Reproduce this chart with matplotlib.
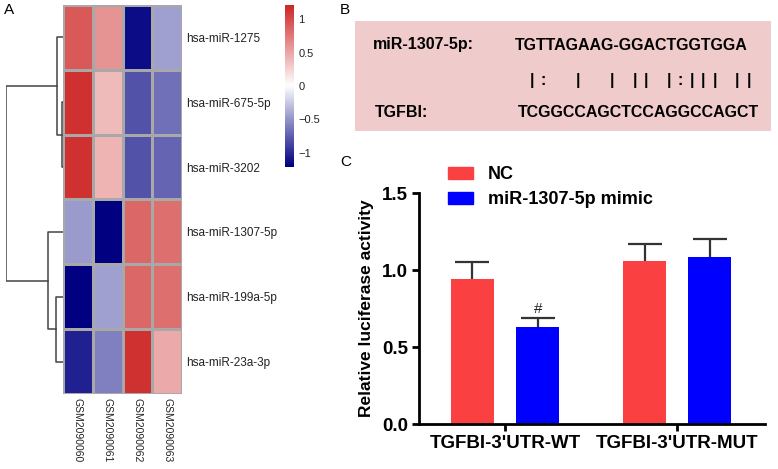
import numpy as np
import matplotlib
matplotlib.use("Agg")
import matplotlib.pyplot as plt
from matplotlib.colors import LinearSegmentedColormap
from matplotlib.patches import Patch

plt.rcParams['font.family'] = ['Liberation Sans', 'DejaVu Sans']

# ===== 資料 =====
# A: heatmap (row-scaled)
mirnas = ["hsa-miR-1275", "hsa-miR-675-5p", "hsa-miR-3202",
          "hsa-miR-1307-5p", "hsa-miR-199a-5p", "hsa-miR-23a-3p"]
samples = ["GSM2090060", "GSM2090061", "GSM2090062", "GSM2090063"]
expr = np.array([
    [0.92, 0.60, -1.15, -0.45],
    [1.15, 0.38, -0.82, -0.68],
    [1.15, 0.42, -0.82, -0.73],
    [-0.48, -1.21, 0.85, 0.80],
    [-1.21, -0.45, 0.85, 0.80],
    [-1.05, -0.60, 1.15, 0.48],
])
# dendrogram merges: (left node, right node, height); leaves 0..5, new nodes 6..
merges = [(1, 2, 0.1), (0, 6, 0.6), (4, 5, 0.7), (3, 8, 1.5), (7, 9, 5.7)]

# B: alignment
mir_seq = "TGTTAGAAG-GGACTGGTGGA"
match_seq = " |:  |  | || |:||| ||"
gene_seq = "TCGGCCAGCTCCAGGCCAGCT"

# C: luciferase
groups = ["TGFBI-3'UTR-WT", "TGFBI-3'UTR-MUT"]
nc_mean = [0.94, 1.06]
nc_err = [0.11, 0.11]
mimic_mean = [0.63, 1.085]
mimic_err = [0.06, 0.115]

# ===== 畫圖 =====
W, H = 778, 469
fig = plt.figure(figsize=(W / 100, H / 100), dpi=100)


def px_axes(x0, y0, x1, y1, **kw):
    return fig.add_axes([x0 / W, 1 - y1 / H, (x1 - x0) / W, (y1 - y0) / H], **kw)


# --- A heatmap ---
cmap = LinearSegmentedColormap.from_list("pheat", ["#000080", "#FFFFFF", "#CD2626"])
ax_h = px_axes(63, 5, 182, 394)
ax_h.pcolormesh(expr, cmap=cmap, vmin=-1.21, vmax=1.21,
                edgecolor="#A8A8A8", linewidth=0.8)
ax_h.set_xlim(0, len(samples))
ax_h.set_ylim(len(mirnas), 0)
for s in ax_h.spines.values():
    s.set_visible(False)
ax_h.set_xticks(np.arange(len(samples)) + 0.5)
ax_h.set_xticklabels(samples, rotation=270, fontsize=7.5, color="#222222")
ax_h.set_yticks(np.arange(len(mirnas)) + 0.5)
ax_h.set_yticklabels(mirnas, fontsize=8.5, color="#222222")
ax_h.yaxis.tick_right()
ax_h.tick_params(length=0, pad=3)

# dendrogram
ax_d = px_axes(6, 5, 63, 394)
pos = {i: i + 0.5 for i in range(len(mirnas))}
hgt = {i: 0.0 for i in range(len(mirnas))}
for k, (a, b, h) in enumerate(merges):
    node = len(mirnas) + k
    ax_d.plot([hgt[a], h, h, hgt[b]], [pos[a], pos[a], pos[b], pos[b]],
              color="#444444", lw=1.1)
    pos[node] = (pos[a] + pos[b]) / 2
    hgt[node] = h
ax_d.set_xlim(merges[-1][2], 0)
ax_d.set_ylim(len(mirnas), 0)
ax_d.axis("off")

# colorbar
ax_c = px_axes(285, 5, 294, 167)
grad = np.linspace(1.21, -1.21, 100).reshape(-1, 1)
ax_c.imshow(grad, cmap=cmap, vmin=-1.21, vmax=1.21, aspect="auto",
            extent=[0, 1, -1.21, 1.21])
ax_c.set_xticks([])
ax_c.yaxis.tick_right()
ax_c.set_yticks([-1, -0.5, 0, 0.5, 1])
ax_c.set_yticklabels(["\u22121", "\u22120.5", "0", "0.5", "1"], fontsize=8, color="#222222")
ax_c.tick_params(length=0, pad=3)
for s in ax_c.spines.values():
    s.set_visible(False)

# --- B alignment ---
ax_b = px_axes(355, 21, 771, 131)
ax_b.set_facecolor("#F0CBCB")
ax_b.set_xlim(0, 416)
ax_b.set_ylim(110, 0)
ax_b.set_xticks([])
ax_b.set_yticks([])
for s in ax_b.spines.values():
    s.set_visible(False)
fs_b = 11.5
ax_b.text(18, 24, "miR-1307-5p:", fontsize=fs_b, fontweight="bold", va="center")
ax_b.text(20, 91, "TGFBI:", fontsize=fs_b, fontweight="bold", va="center")
ax_b.text(160, 24, mir_seq, fontsize=fs_b, fontweight="bold", va="center")
ax_b.text(163, 91, gene_seq, fontsize=fs_b, fontweight="bold", va="center")
cw = 11.4
for i, ch in enumerate(match_seq):
    if ch != " ":
        ax_b.text(160 + cw * (i + 0.5), 59, ch, fontsize=fs_b,
                  fontweight="bold", ha="center", va="center")

# --- C bar chart ---
ax = px_axes(419, 193, 765, 424)
x = np.arange(len(groups))
bw = 0.25
off = 0.19
ekw = dict(ecolor="#333333", elinewidth=1.6, capsize=12, capthick=1.6, zorder=1)
ax.bar(x - off, nc_mean, bw, color="#FA4040", zorder=3)
ax.bar(x + off, mimic_mean, bw, color="#0000FF", zorder=3)
ax.errorbar(x - off, nc_mean, yerr=nc_err, fmt="none", **ekw)
ax.errorbar(x + off, mimic_mean, yerr=mimic_err, fmt="none", **ekw)
ax.text(x[0] + off, mimic_mean[0] + mimic_err[0] + 0.01, "#", ha="center",
        va="bottom", fontsize=11, color="#222222")
ax.set_xlim(-0.5, 1.51)
ax.set_ylim(0, 1.5)
ax.set_yticks([0, 0.5, 1.0, 1.5])
ax.set_yticklabels(["0.0", "0.5", "1.0", "1.5"])
ax.set_xticks(x)
ax.set_xticklabels(groups)
for lab in ax.get_xticklabels() + ax.get_yticklabels():
    lab.set_fontweight("bold")
    lab.set_fontsize(13.5)
ax.spines["top"].set_visible(False)
ax.spines["right"].set_visible(False)
ax.spines["left"].set_linewidth(2)
ax.spines["bottom"].set_linewidth(2)
ax.spines["left"].set_zorder(4)
ax.spines["bottom"].set_zorder(4)
ax.tick_params(width=2, length=5, pad=3)
ax.set_ylabel("Relative luciferase activity", fontsize=12.5, fontweight="bold",
              labelpad=6)
ax.legend(handles=[Patch(color="#FA4040", label="NC"),
                   Patch(color="#0000FF", label="miR-1307-5p mimic")],
          loc="upper left", bbox_to_anchor=(448 / W, 1 - 166 / H),
          bbox_transform=fig.transFigure, frameon=False, borderpad=0,
          borderaxespad=0, handlelength=1.4, handleheight=0.67,
          handletextpad=0.8, labelspacing=0.45,
          prop=dict(size=13, weight="bold"))

# panel letters
fig.text(4 / W, 1 - 10 / H, "A", fontsize=11, va="center")
fig.text(340 / W, 1 - 10 / H, "B", fontsize=11, va="center")
fig.text(340 / W, 1 - 162 / H, "C", fontsize=11, va="center")

fig.savefig("out.png", dpi=100)
